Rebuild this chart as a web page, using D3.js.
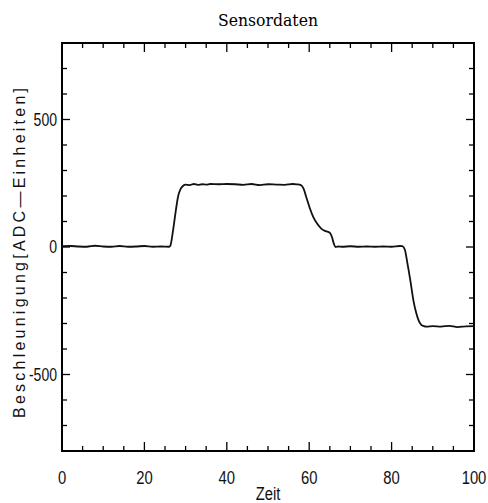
<!DOCTYPE html>
<html>
<head>
<meta charset="utf-8">
<script src="https://cdn.jsdelivr.net/npm/d3@7"></script>
<style>
  body { margin: 0; background: #fff; }
  svg { display: block; }
  .lbl { font-family: "Liberation Sans", Arial, sans-serif; font-size: 19px; fill: #111; }
</style>
</head>
<body>
<div id="chart"></div>
<script>
// time axis (Zeit) and sensor values
const zeit = [0, 2, 4, 6, 8, 10, 12, 14, 16, 18, 20, 22, 24, 26, 26.3, 27, 27.6, 28.2, 28.8, 29.4,
  30, 31, 32, 33, 34, 35, 36, 38, 40, 42, 44, 46, 48, 50, 52, 54, 56, 57, 58,
  58.6, 59.4, 60.2, 61, 62, 63, 64, 65, 65.5, 66, 66.4, 67, 68, 70, 72, 74, 76, 78, 80, 82,
  82.6, 83.2, 83.8, 84.5, 85.3, 86, 86.6, 87.2, 87.8, 88.5, 90, 92, 94, 96, 98, 100];
const wert = [3, 4, 2, 1, 5, 2, 1, 4, 1, 2, 4, 1, 2, 1, 5, 70, 140, 200, 228, 240,
  245, 243, 247, 244, 246, 245, 247, 246, 247, 246, 244, 247, 243, 246, 245, 244, 247, 246, 243,
  230, 190, 150, 117, 90, 71, 62, 56, 40, 12, 0, 2, 1, 3, 1, 2, 1, 2, 1, 4,
  3, -10, -60, -126, -210, -260, -290, -305, -310, -312, -310, -312, -309, -314, -311, -310];

const xTicks = [0, 20, 40, 60, 80, 100];
const yTicks = [-500, 0, 500];
const xDomain = [0, 100];
const yDomain = [-800, 800];

const width = 488, height = 503;
const margin = { top: 43, right: 14, bottom: 52, left: 62 };
const iw = width - margin.left - margin.right;
const ih = height - margin.top - margin.bottom;
const narrow = 0.78; // tick labels in the scan are a condensed sans

const svg = d3.select("#chart").append("svg")
  .attr("width", width)
  .attr("height", height);

const g = svg.append("g").attr("transform", `translate(${margin.left},${margin.top})`);

const x = d3.scaleLinear().domain(xDomain).range([0, iw]);
const y = d3.scaleLinear().domain(yDomain).range([ih, 0]);

// minor + major ticks, pointing inward on all four sides
const xMinor = d3.range(5, 100, 5);
const yMinor = d3.range(-700, 800, 100);

g.selectAll(".xt").data(xMinor).enter().append("line")
  .attr("x1", d => x(d)).attr("x2", d => x(d))
  .attr("y1", ih).attr("y2", d => ih - (d % 20 === 0 ? 9 : 5))
  .attr("stroke", "#000").attr("stroke-width", 1.3);
g.selectAll(".xtt").data(xMinor).enter().append("line")
  .attr("x1", d => x(d)).attr("x2", d => x(d))
  .attr("y1", 0).attr("y2", d => (d % 20 === 0 ? 9 : 5))
  .attr("stroke", "#000").attr("stroke-width", 1.3);
g.selectAll(".yt").data(yMinor).enter().append("line")
  .attr("y1", d => y(d)).attr("y2", d => y(d))
  .attr("x1", 0).attr("x2", d => (d % 500 === 0 ? 8 : 5))
  .attr("stroke", "#000").attr("stroke-width", 1.3);
g.selectAll(".ytr").data(yMinor).enter().append("line")
  .attr("y1", d => y(d)).attr("y2", d => y(d))
  .attr("x1", iw).attr("x2", d => iw - (d % 500 === 0 ? 8 : 5))
  .attr("stroke", "#000").attr("stroke-width", 1.3);

// frame
g.append("rect")
  .attr("width", iw).attr("height", ih)
  .attr("fill", "none").attr("stroke", "#000").attr("stroke-width", 2);

// tick labels
g.selectAll(".xl").data(xTicks).enter().append("text")
  .attr("class", "lbl")
  .attr("transform", d => `translate(${x(d)},${ih + 33}) scale(${narrow},1)`)
  .attr("text-anchor", "middle")
  .text(d => d);
g.selectAll(".yl").data(yTicks).enter().append("text")
  .attr("class", "lbl")
  .style("font-size", "18px")
  .attr("transform", d => `translate(-5,${y(d) + 6}) scale(${narrow},1)`)
  .attr("text-anchor", "end")
  .text(d => d);

// data line
const line = d3.line()
  .x((d, i) => x(zeit[i]))
  .y(d => y(d))
  .curve(d3.curveMonotoneX);

g.append("path")
  .datum(wert)
  .attr("fill", "none")
  .attr("stroke", "#111")
  .attr("stroke-width", 1.8)
  .attr("d", line);

// title + axis titles
svg.append("text")
  .attr("x", margin.left + iw / 2).attr("y", 26)
  .attr("text-anchor", "middle")
  .style("font-family", "'DejaVu Serif', serif")
  .style("font-size", "17px")
  .attr("textLength", 100).attr("lengthAdjust", "spacingAndGlyphs")
  .text("Sensordaten");

svg.append("text")
  .attr("class", "lbl")
  .attr("transform", `translate(${margin.left + iw / 2},${height - 3}) scale(${narrow},1)`)
  .attr("text-anchor", "middle")
  .text("Zeit");

svg.append("text")
  .attr("class", "lbl")
  .attr("transform", `translate(25,253) rotate(-90)`)
  .attr("text-anchor", "middle")
  .attr("textLength", 330).attr("lengthAdjust", "spacing")
  .style("font-size", "16px")
  .text("Beschleunigung[ADC\u2014Einheiten]");
</script>
</body>
</html>
